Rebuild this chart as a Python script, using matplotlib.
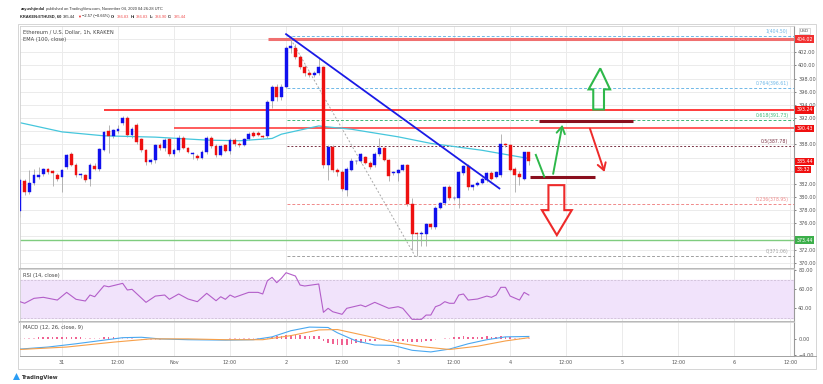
import numpy as np
import matplotlib.pyplot as plt
import matplotlib.transforms as mtransforms
from matplotlib.patches import Rectangle, Polygon

# ETH/USD 1h candles, Oct 30 15:00 -> Nov 4 04:00 (index 0..109)
opens = [377.8, 382.5, 380.8, 382.1, 383.1, 383.5, 384.2, 383.9, 383.3, 383.0,
         384.6, 386.6, 384.9, 383.3, 383.3, 382.7, 384.7, 384.3, 387.2, 390.0,
         389.3, 390.0, 391.2, 392.0, 389.4, 390.9, 388.8, 387.1, 385.3, 385.6,
         387.9, 387.5, 388.8, 386.6, 387.2, 388.9, 387.4, 386.6, 386.3, 386.0,
         386.9, 389.0, 387.7, 386.4, 387.9, 387.0, 388.6, 388.1, 387.9, 388.8,
         389.8, 389.8, 389.3, 389.2, 394.6, 396.7, 395.2, 396.8, 402.7, 402.7,
         401.3, 399.7, 398.9, 398.6, 398.8, 399.7, 384.85, 387.6, 384.1, 383.8,
         381.1, 384.1, 385.4, 385.4, 386.1, 385.15, 384.85, 386.6, 387.5, 385.6,
         383.6, 383.7, 384.1, 384.8, 378.9, 374.5, 374.4, 374.4, 375.9, 375.5,
         378.4, 379.1, 381.5, 379.8, 379.8, 383.7, 384.7, 381.5, 381.8, 382.2,
         382.6, 383.6, 383.1, 383.3, 388.0, 387.9, 384.2, 383.5, 382.8, 386.83]
highs = [382.9, 382.8, 384.1, 384.2, 384.5, 384.4, 384.4, 384.1, 383.6, 384.3,
         386.6, 386.8, 385.1, 383.6, 383.5, 385.2, 385.1, 387.5, 390.1, 390.9,
         390.4, 391.0, 392.3, 392.3, 390.6, 391.3, 389.0, 387.3, 385.8, 388.1,
         388.2, 388.9, 389.0, 387.4, 389.4, 389.2, 387.6, 386.9, 386.5, 387.1,
         389.2, 389.3, 388.0, 387.9, 388.1, 388.9, 388.9, 388.3, 389.0, 389.9,
         390.1, 390.0, 389.5, 394.7, 397.0, 397.2, 397.2, 403.0, 404.5, 403.3,
         401.6, 400.1, 399.2, 399.2, 401.1, 399.9, 387.9, 387.9, 384.4, 384.1,
         384.6, 385.9, 385.6, 386.7, 386.3, 385.4, 386.8, 388.9, 387.6, 385.8,
         384.0, 384.3, 385.0, 385.0, 379.8, 374.7, 374.8, 376.1, 376.1, 378.6,
         379.3, 381.7, 381.8, 380.2, 384.0, 384.9, 385.0, 382.0, 382.4, 383.0,
         383.8, 383.9, 384.0, 389.6, 388.2, 388.1, 384.5, 384.0, 386.9, 386.83]
lows = [377.0, 380.3, 380.4, 381.8, 382.7, 383.2, 383.5, 381.6, 382.4, 380.8,
        384.3, 384.7, 383.0, 382.9, 382.3, 381.6, 384.1, 384.0, 387.0, 386.7,
        388.9, 389.8, 390.9, 389.1, 389.0, 388.0, 386.8, 384.9, 385.0, 385.2,
        387.2, 387.0, 386.2, 386.3, 386.9, 387.3, 386.7, 385.8, 385.7, 385.8,
        386.5, 387.5, 386.1, 386.2, 386.8, 386.6, 387.8, 387.6, 387.7, 388.6,
        389.1, 389.2, 388.9, 389.0, 393.6, 394.6, 394.8, 396.5, 401.9, 401.0,
        399.4, 398.4, 398.2, 398.3, 398.5, 384.4, 382.6, 383.8, 383.2, 380.9,
        380.2, 383.9, 385.0, 385.1, 385.0, 384.3, 384.5, 386.3, 385.4, 382.4,
        383.4, 382.5, 383.9, 378.6, 371.9, 371.06, 372.6, 372.6, 375.2, 375.2,
        378.1, 378.8, 379.5, 379.6, 378.3, 383.4, 381.0, 381.1, 381.6, 382.0,
        382.3, 382.6, 382.9, 383.1, 387.6, 383.9, 380.8, 381.8, 382.6, 384.90]
closes = [382.6, 380.8, 382.2, 383.3, 383.4, 384.2, 383.8, 383.6, 382.7, 384.1,
          386.4, 384.9, 383.3, 383.4, 382.6, 384.9, 384.3, 387.3, 389.9, 389.3,
          390.2, 390.3, 392.0, 389.4, 390.3, 388.4, 387.1, 385.3, 385.6, 387.9,
          387.5, 388.7, 386.6, 387.2, 388.9, 387.5, 386.9, 386.7, 386.0, 386.9,
          389.0, 387.7, 386.4, 387.7, 387.0, 388.7, 388.0, 387.9, 388.8, 389.6,
          389.3, 389.4, 389.1, 394.5, 396.7, 395.2, 396.8, 402.7, 402.9, 401.3,
          399.7, 398.8, 398.6, 398.9, 399.7, 384.85, 387.6, 384.1, 383.85, 381.15,
          384.3, 385.4, 385.45, 386.5, 385.1, 384.6, 386.6, 387.4, 385.6, 383.2,
          383.8, 384.1, 384.85, 378.9, 374.4, 374.4, 374.5, 375.9, 375.5, 378.4,
          379.1, 381.5, 379.8, 379.9, 383.8, 384.7, 381.5, 381.8, 382.2, 382.7,
          383.6, 382.8, 383.8, 388.0, 387.9, 384.1, 383.3, 383.1, 386.83, 385.44]

# EMA(100) read at a few candles
ema_idx = [0, 9, 18, 29, 40, 47, 54, 56, 64, 66, 71, 81, 88, 99, 109]
ema_vals = [391.3, 389.9, 389.3, 389.1, 388.65, 388.55, 388.9, 389.55, 390.8,
            390.65, 390.3, 389.15, 388.15, 387.1, 385.85]

# RSI(14)
rsi_idx = [0, 1, 3, 5, 8, 10, 12, 14, 15, 16, 18, 19, 22, 23, 24, 27, 29, 31, 32, 34,
           36, 38, 40, 42, 43, 44, 45, 46, 49, 51, 52, 53, 54, 55, 56, 57, 59, 60, 61, 64,
           65, 66, 67, 69, 70, 73, 74, 76, 79, 81, 82, 84, 86, 87, 88, 89, 90, 91, 92, 93,
           94, 95, 96, 98, 100, 101, 102, 103, 104, 105, 107, 108, 109]
rsi_vals = [47.0, 45.3, 50.5, 51.6, 48.7, 56.8, 49.5, 47.7, 54.0, 52.2,
            63.8, 62.7, 66.3, 59.3, 60.0, 46.3, 52.9, 54.0, 49.5, 55.1,
            49.8, 47.0, 55.8, 48.0, 52.2, 49.5, 54.0, 51.6, 56.8, 56.8,
            55.1, 69.1, 72.6, 67.0, 71.6, 77.5, 74.0, 64.5, 63.5, 65.6,
            35.8, 40.0, 36.4, 33.7, 40.0, 43.5, 41.7, 46.3, 40.0, 41.7,
            40.0, 28.4, 28.4, 32.9, 32.9, 41.7, 43.5, 47.0, 45.3, 45.3,
            54.0, 55.1, 48.7, 49.8, 52.9, 51.6, 54.0, 62.1, 62.1, 52.9,
            48.7, 56.8, 54.0]

# MACD(12, 26, 9)
macd_idx = [0, 6, 12, 18, 22, 26, 30, 36, 44, 50, 54, 58, 62, 66, 68, 72, 76, 80, 84, 88, 92, 96, 100, 104, 109]
macd_vals = [-2.5, -2.0, -1.2, -0.3, 0.3, 0.4, 0.0, -0.2, -0.3, -0.2, 0.5, 2.0, 2.9, 2.8, 1.5,
             -0.5, -1.5, -1.6, -2.8, -3.2, -2.5, -1.2, -0.2, 0.5, 0.6]
sig_idx = [0, 10, 20, 28, 36, 44, 52, 58, 64, 68, 74, 80, 86, 92, 98, 104, 109]
sig_vals = [-2.6, -2.0, -0.8, 0.0, 0.0, -0.2, -0.2, 0.8, 2.2, 2.3, 0.8, -0.8, -1.9, -2.6, -1.8, -0.5, 0.3]
hist = [0.1, 0.2, 0.3, 0.3, 0.4, 0.4, 0.4, 0.4, 0.4, 0.4, 0.4, 0.4, 0.4, 0.4, 0.3, 0.3, 0.3, 0.3, 0.4, 0.5,
        0.4, 0.3, 0.3, 0.2, 0.1, -0.1, -0.2, -0.3, -0.3, -0.2, -0.2, -0.1, -0.1, -0.1, 0.0, 0.0, -0.1, -0.1, -0.1, 0.0,
        0.0, 0.0, -0.1, 0.0, 0.0, 0.1, 0.1, 0.1, 0.1, 0.1, 0.1, 0.1, 0.1, 0.3, 0.5, 0.6, 0.7, 0.9, 1.0, 1.0,
        0.9, 0.8, 0.7, 0.6, 0.6, -0.6, -0.9, -1.2, -1.5, -1.6, -1.4, -1.3, -1.1, -1.0, -0.8, -0.6, -0.4, -0.2, -0.2, -0.3,
        -0.4, -0.5, -0.5, -0.7, -0.8, -0.8, -0.7, -0.6, -0.5, -0.3, -0.1, 0.1, 0.3, 0.4, 0.5, 0.6, 0.5, 0.5, 0.5, 0.5,
        0.6, 0.5, 0.5, 0.6, 0.5, 0.4, 0.3, 0.3, 0.3, 0.3]

# levels drawn on the chart
fib_levels = [1.0, 0.764, 0.618, 0.5, 0.236, 0.0]
fib_prices = [404.50, 396.61, 391.73, 387.78, 378.95, 371.06]
fib_colors = ['#6fb8e8', '#6fb8e8', '#3cb878', '#7a3446', '#f08a8a', '#a0a0a0']
fib_styles = [(0, (3, 2)), (0, (3, 2)), (0, (3, 2)), (0, (2, 2)), (0, (3, 2)), (0, (3, 2))]
hlines = [(404.02, 268, '#f07070', 2.2), (393.24, 104, '#ff1a1a', 1.2),
          (390.43, 174, '#ff4040', 1.2), (373.44, 19.5, '#7fcc7f', 1.0)]

price_ticks = [370, 372, 376, 378, 380, 382, 388, 392, 394, 396, 398, 400, 402]
time_labels = ['31', '12:00', 'Nov', '12:00', '2', '12:00', '3', '12:00', '4',
               '12:00', '5', '12:00', '6', '12:00']

W, H = 823, 384
fig = plt.figure(figsize=(W / 100, H / 100), dpi=100)
fig.patch.set_facecolor('white')


def fx(px):
    return px / W


def fy(py):
    return 1 - py / H


L, R = 19.5, 794
ax = fig.add_axes([fx(L), fy(269), fx(R) - fx(L), fy(26) - fy(269)])
ax_rsi = fig.add_axes([fx(L), fy(322), fx(R) - fx(L), fy(269) - fy(322)], sharex=ax)
ax_macd = fig.add_axes([fx(L), fy(356), fx(R) - fx(L), fy(322) - fy(356)], sharex=ax)

xmin, xmax = -0.1, 165.8
vgrid = [9 + 12 * k for k in range(len(time_labels))]

for a in (ax, ax_rsi, ax_macd):
    a.set_xlim(xmin, xmax)
    a.tick_params(axis='x', bottom=False, labelbottom=False)
    for v in vgrid:
        a.axvline(v, color='#ebebeb', lw=0.7, zorder=0)
    for s in ('top', 'left', 'bottom'):
        a.spines[s].set_color('#d0d0d0')
        a.spines[s].set_linewidth(0.6)
    a.spines['right'].set_color('#9a9a9a')
    a.spines['right'].set_linewidth(0.8)
    a.yaxis.tick_right()
    a.tick_params(axis='y', labelsize=3.6, colors='#555555', length=1.5, width=0.5, pad=1.5)
ax.spines['bottom'].set_color('#b8b8b8')
ax.spines['bottom'].set_linewidth(1.4)
ax_rsi.spines['bottom'].set_color('#b8b8b8')
ax_rsi.spines['bottom'].set_linewidth(1.4)

# ---------------- price pane ----------------
ax.set_ylim(369.05, 406.0)
ax.set_yticks(price_ticks)
ax.set_yticklabels(['%.2f' % p for p in price_ticks])
for p in range(370, 406, 2):
    ax.axhline(p, color='#ebebeb', lw=0.7, zorder=0)

idx = np.arange(len(opens))
up = np.array(closes) >= np.array(opens)
cols = np.where(up, '#1010ee', '#ee1010')
ax.vlines(idx, lows, highs, color='#a8a8a8', lw=0.6, zorder=2)
bottoms = np.minimum(opens, closes)
heights = np.maximum(np.abs(np.array(closes) - np.array(opens)), 0.12)
ax.bar(idx, heights, bottom=bottoms, width=0.62, color=cols, edgecolor=cols, lw=0.3, zorder=3)

ax.plot(ema_idx, ema_vals, color='#45c6dc', lw=0.9, zorder=2)

for price, xpix, c, lw in hlines:
    x0 = (xpix - 20) / 4.667
    ax.plot([x0, xmax], [price, price], color=c, lw=lw, zorder=1, solid_capstyle='butt')

for lev, p, c, ls in zip(fib_levels, fib_prices, fib_colors, fib_styles):
    ax.plot([57.3, xmax], [p, p], color=c, lw=0.7, ls=ls, zorder=1)
    ax.text(164.6, p + 0.25, '%g(%.2f)' % (lev, p), color=c, fontsize=3.3,
            ha='right', va='bottom', zorder=4)
ax.plot([57.6, 84.6], [404.5, 371.06], color='#a8a8a8', lw=0.7, ls=(0, (2, 2)), zorder=1)

# trend line
ax.plot([57.0, 102.7], [404.76, 381.3], color='#1a1ae6', lw=1.3, zorder=4)

# drawn scenario marks
ax.plot([111.1, 131.4], [391.58, 391.58], color='#8a0f1e', lw=2.2, zorder=4, solid_capstyle='butt')
ax.plot([109.3, 123.2], [383.0, 383.0], color='#8a0f1e', lw=2.2, zorder=4, solid_capstyle='butt')
ax.plot([110.5, 112.3], [386.4, 383.1], color='#2eb84a', lw=1.4, zorder=4)
ax.annotate('', xy=(116.3, 391.4), xytext=(114.1, 383.1),
            arrowprops=dict(arrowstyle='->,head_length=0.5,head_width=0.3', color='#2eb84a', lw=1.4))
ax.annotate('', xy=(125.4, 383.4), xytext=(121.9, 390.8),
            arrowprops=dict(arrowstyle='->,head_length=0.5,head_width=0.3', color='#ee2a2a', lw=1.4))
up_arrow = [(122.8, 393.3), (122.8, 396.36), (121.8, 396.36), (124.3, 399.55),
            (126.4, 396.36), (125.1, 396.36), (125.1, 393.3)]
dn_arrow = [(113.2, 381.8), (113.2, 378.0), (111.8, 378.0), (115.0, 374.2),
            (118.2, 378.0), (116.6, 378.0), (116.6, 381.8)]
ax.add_patch(Polygon(up_arrow, closed=True, fill=False, ec='#2eb84a', lw=1.5, zorder=4))
ax.add_patch(Polygon(dn_arrow, closed=True, fill=False, ec='#ee2a2a', lw=1.5, zorder=4))

# price axis tags
tagt = mtransforms.blended_transform_factory(ax.transAxes, ax.transData)
tags = [(404.02, '404.02', '#f23030'), (393.24, '393.24', '#f01010'),
        (390.43, '390.43', '#f01010'), (385.44, '385.44', '#f01010'),
        (384.15, '33:32', '#f01010'), (373.44, '373.44', '#3caf4a')]
for p, s, c in tags:
    ax.text(1.003, p, s, transform=tagt, fontsize=3.4, color='white', ha='left', va='center',
            bbox=dict(boxstyle='square,pad=0.25', fc=c, ec='none'), zorder=6, clip_on=False)
fig.text(fx(800), fy(31), 'USD', fontsize=3.2, color='#555555', ha='left', va='center',
         bbox=dict(boxstyle='square,pad=0.2', fc='white', ec='#bbbbbb', lw=0.4))

ax.text(0.005, 0.985, 'Ethereum / U.S. Dollar, 1h, KRAKEN', transform=ax.transAxes,
        fontsize=3.7, color='#444444', va='top')
ax.text(0.005, 0.955, 'EMA (100, close)', transform=ax.transAxes,
        fontsize=3.7, color='#444444', va='top')

# ---------------- RSI pane ----------------
ax_rsi.set_ylim(25.6, 81.4)
ax_rsi.set_yticks([40, 60, 80])
ax_rsi.set_yticklabels(['40.00', '60.00', '80.00'])
for v in (40, 60):
    ax_rsi.axhline(v, color='#e6e6e6', lw=0.7, zorder=0)
ax_rsi.axhspan(30, 70, color='#f1e3fb', zorder=0.5)
ax_rsi.axhline(70, color='#c8b8d0', lw=0.5, ls=(0, (3, 2)))
ax_rsi.axhline(30, color='#c8b8d0', lw=0.5, ls=(0, (3, 2)))
ax_rsi.plot(rsi_idx, rsi_vals, color='#b35ec9', lw=0.8, zorder=3)
ax_rsi.text(0.005, 0.93, 'RSI (14, close)', transform=ax_rsi.transAxes,
            fontsize=3.7, color='#444444', va='top')

# ---------------- MACD pane ----------------
ax_macd.set_ylim(-4.2, 4.15)
ax_macd.set_yticks([-4, 0])
ax_macd.set_yticklabels(['\u22124.00', '0.00'])
hcols = ['#f06292' if abs(h) > 0.3 else '#f8bbd0' for h in hist]
ax_macd.bar(idx, hist, width=0.35, color=hcols, zorder=2)
ax_macd.plot(macd_idx, macd_vals, color='#4aa8f0', lw=0.8, zorder=3)
ax_macd.plot(sig_idx, sig_vals, color='#f7a04a', lw=0.8, zorder=3)
ax_macd.text(0.005, 0.9, 'MACD (12, 26, close, 9)', transform=ax_macd.transAxes,
             fontsize=3.7, color='#444444', va='top')

# time axis
for v, s in zip(vgrid, time_labels):
    xp = 20 + v * 4.667
    fig.text(fx(xp), fy(363), s, fontsize=3.5, color='#555555', ha='center', va='center')
fig.add_artist(Rectangle((fx(18), fy(369)), fx(816) - fx(18), fy(24) - fy(369),
                         transform=fig.transFigure, fill=False, ec='#cfcfcf', lw=0.6))
fig.add_artist(plt.Line2D([fx(L), fx(816)], [fy(356), fy(356)], transform=fig.transFigure,
                          color='#9a9a9a', lw=0.6))

# header: pieces placed one after another
renderer = fig.canvas.get_renderer()


def chain(parts, x0, y, size):
    x = fx(x0)
    for s, c, bold in parts:
        t = fig.text(x, fy(y), s, fontsize=size, color=c, va='center',
                     fontweight='bold' if bold else 'normal', family='Liberation Sans')
        x = t.get_window_extent(renderer=renderer).x1 / W + fx(1.3)


chain([('zayushjindal', '#222222', True),
       ('published on TradingView.com, November 04, 2020 04:26:28 UTC', '#333333', False)],
      20.5, 9, 2.85)
chain([('KRAKEN:ETHUSD, 60', '#222222', True), ('385.44', '#222222', False),
       ('\u25bc', '#ee2222', False), ('\u22122.57 (\u22120.66%)', '#222222', False),
       ('O:', '#222222', True), ('386.83', '#f05050', False),
       ('H:', '#222222', True), ('386.83', '#f05050', False),
       ('L:', '#222222', True), ('384.90', '#f05050', False),
       ('C:', '#222222', True), ('385.44', '#f05050', False)],
      20.5, 16.5, 2.85)

# footer logo
fig.add_artist(Polygon([(fx(13), fy(380)), (fx(16.5), fy(373)), (fx(20), fy(380))],
                       closed=True, transform=fig.transFigure, fc='#2a9df4', ec='none'))
fig.text(fx(21), fy(377), 'TradingView', fontsize=3.8, fontweight='bold', color='#333333', va='center')

fig.savefig('out.png', dpi=100)
